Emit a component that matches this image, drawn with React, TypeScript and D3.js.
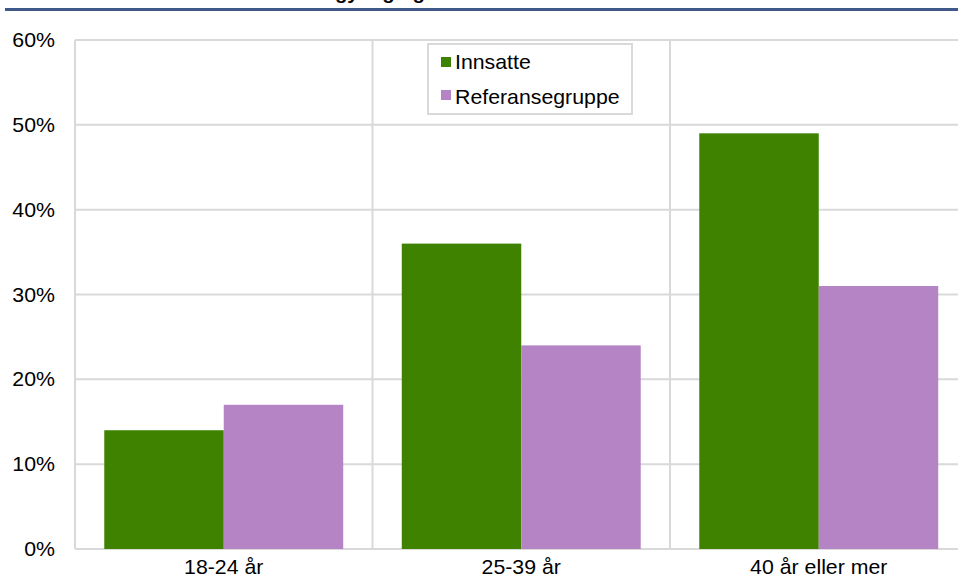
import React from "react";
import * as d3 from "d3";

const categories = ["18-24 år", "25-39 år", "40 år eller mer"];
const seriesNames = ["Innsatte", "Referansegruppe"];
const innsatte = [14, 36, 49];
const referansegruppe = [17, 24, 31];
const yTicks = [0, 10, 20, 30, 40, 50, 60];
const colors = ["#3e8200", "#b484c4"];
const title = "Andel med rusmiddelbruk gyldig og besvart etter alder";

const W = 958;
const H = 576;
const left = 75;
const top = 40;
const bottom = 549;
const step = 297.5;
const SX = 1.065;

function T({ x, y, anchor = "start", size = 20, weight = "normal", dy = "0", children }: any) {
  return (
    <g transform={`translate(${x},${y}) scale(${SX},1)`}>
      <text x={0} y={0} dy={dy} textAnchor={anchor} fontSize={size} fontWeight={weight} fill="#000">
        {children}
      </text>
    </g>
  );
}

export default function App() {
  const x = d3.scaleBand<string>().domain(categories).range([left, left + step * categories.length]).padding(0);
  const xs = d3.scaleBand<string>().domain(seriesNames).range([0, x.bandwidth()]).paddingInner(0).paddingOuter(0.245);
  const y = d3.scaleLinear().domain([0, 60]).range([bottom, top]);
  const values = [innsatte, referansegruppe];
  const font = "'Liberation Sans', Arial, sans-serif";
  const grid = "#d9d9d9";
  const boundaries = [...categories.map((c) => x(c) as number), left + step * categories.length];

  return (
    <svg width={W} height={H} style={{ position: "absolute", left: 0, top: 0, background: "#fff" }} fontFamily={font}>
      <T x={80} y={-1} size={19} weight="bold">{title}</T>
      <rect x={5} y={8} width={W - 5} height={3} fill="#3f5a8a" />
      {yTicks.map((t) => (
        <line key={"h" + t} x1={left} x2={W} y1={y(t)} y2={y(t)} stroke={grid} strokeWidth={2} />
      ))}
      {boundaries.map((b, i) => (
        <line key={"v" + i} x1={b} x2={b} y1={top} y2={bottom} stroke={grid} strokeWidth={2} />
      ))}
      {categories.map((c, ci) =>
        seriesNames.map((s, si) => (
          <rect
            key={c + s}
            x={(x(c) as number) + (xs(s) as number)}
            y={y(values[si][ci])}
            width={xs.bandwidth()}
            height={bottom - y(values[si][ci])}
            fill={colors[si]}
          />
        ))
      )}
      {yTicks.map((t) => (
        <T key={"yl" + t} x={55} y={y(t)} dy="0.35em" anchor="end">
          {t}%
        </T>
      ))}
      {categories.map((c) => (
        <T key={"xl" + c} x={(x(c) as number) + x.bandwidth() / 2} y={574} anchor="middle">
          {c}
        </T>
      ))}
      <rect x={428} y={44} width={204} height={70} fill="#fff" stroke={grid} strokeWidth={2} />
      {seriesNames.map((s, i) => (
        <g key={"lg" + s}>
          <rect x={441} y={57 + i * 33} width={10} height={10} fill={colors[i]} />
          <T x={455} y={62 + i * 35} dy="0.35em">
            {s}
          </T>
        </g>
      ))}
    </svg>
  );
}
